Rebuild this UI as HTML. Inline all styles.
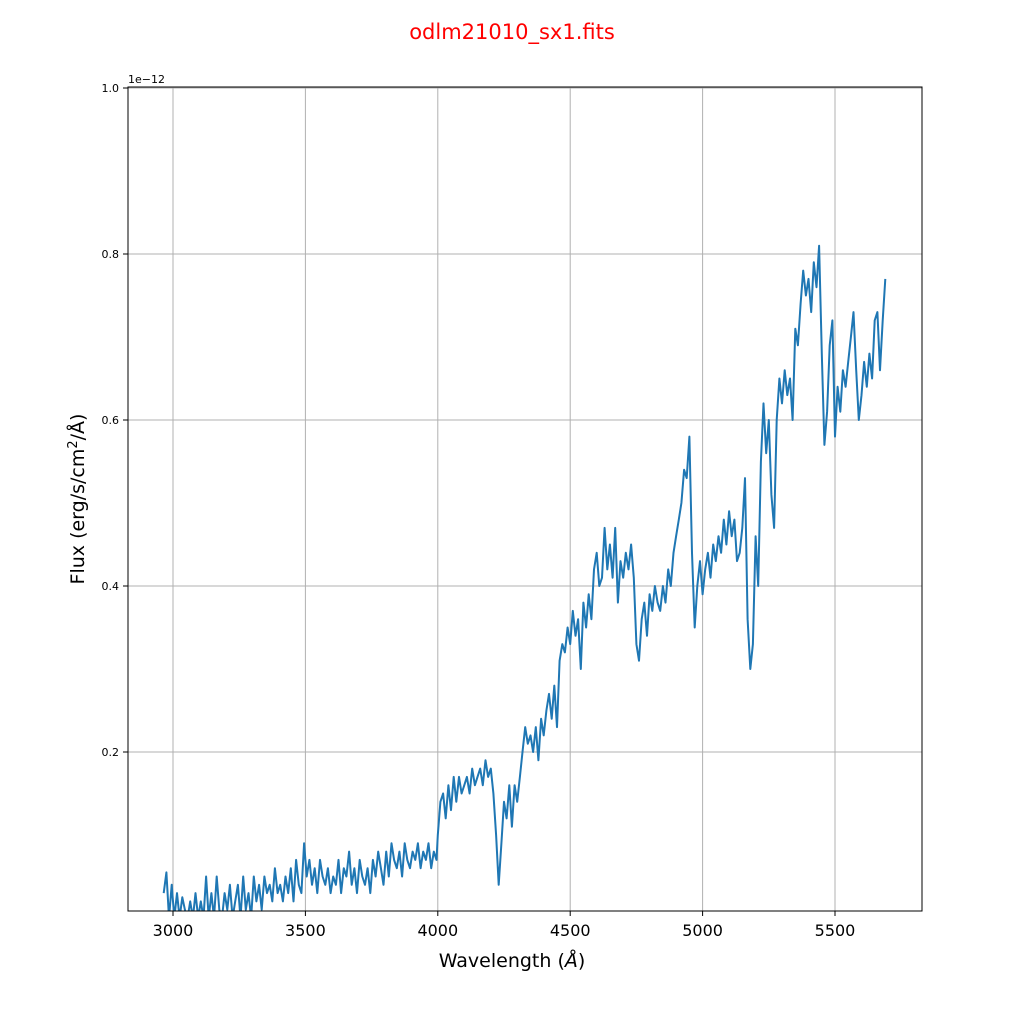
<!DOCTYPE html>
<html><head><meta charset="utf-8"><style>
body{margin:0;background:#fff;}
svg{display:block;font-family:"DejaVu Sans","Liberation Sans",sans-serif;}
</style></head><body>
<svg id="chart" width="1024" height="1024">
<text x="512" y="39" text-anchor="middle" font-size="21" fill="#ff0000">odlm21010_sx1.fits</text>
<defs><clipPath id="clip"><rect x="128" y="87" width="794" height="824"/></clipPath></defs>
<g id="grid"></g>
<g id="plot" clip-path="url(#clip)"></g>
<rect x="128" y="87" width="794" height="824" fill="none" stroke="#000" stroke-width="1"/>
<g id="ticks"></g>
<text x="128" y="83" font-size="11">1e−12</text>
<text x="512" y="967" text-anchor="middle" font-size="19">Wavelength (<tspan font-style="italic">Å</tspan>)</text>
<text transform="translate(84,499) rotate(-90)" text-anchor="middle" font-size="19">Flux (erg/s/cm<tspan font-size="13" dy="-7">2</tspan><tspan dy="7">/Å)</tspan></text>
</svg>
<script>
const wavelengths=[2965,2975,2985,2995,3005,3015,3025,3035,3045,3055,3065,3075,3085,3095,3105,3115,3125,3135,3145,3155,3165,3175,3185,3195,3205,3215,3225,3235,3245,3255,3265,3275,3285,3295,3305,3315,3325,3335,3345,3355,3365,3375,3385,3395,3405,3415,3425,3435,3445,3455,3465,3475,3485,3495,3505,3515,3525,3535,3545,3555,3565,3575,3585,3595,3605,3615,3625,3635,3645,3655,3665,3675,3685,3695,3705,3715,3725,3735,3745,3755,3765,3775,3785,3795,3805,3815,3825,3835,3845,3855,3865,3875,3885,3895,3905,3915,3925,3935,3945,3955,3965,3975,3985,3995,
4000,4010,4020,4030,4040,4050,4060,4070,4080,4090,4100,4110,4120,4130,4140,4150,4160,4170,4180,4190,4200,4210,4220,4230,4240,4250,4260,4270,4280,4290,4300,4310,4320,4330,4340,4350,4360,4370,4380,4390,4400,4410,4420,4430,4440,4450,4460,4470,4480,4490,4500,4510,4520,4530,4540,4550,4560,4570,4580,4590,4600,4610,4620,4630,4640,4650,4660,4670,4680,4690,4700,4710,4720,4730,4740,4750,4760,4770,4780,4790,4800,4810,4820,4830,4840,4850,4860,4870,4880,4890,4900,4910,4920,4930,4940,4950,4960,4970,4980,4990,5000,5010,5020,5030,5040,5050,5060,5070,5080,5090,5100,5110,5120,5130,5140,5150,5160,5170,5180,5190,5200,5210,5220,5230,5240,5250,5260,5270,5280,5290,5300,5310,5320,5330,5340,5350,5360,5370,5380,5390,5400,5410,5420,5430,5440,5450,5460,5470,5480,5490,5500,5510,5520,5530,5540,5550,5560,5570,5580,5590,5600,5610,5620,5630,5640,5650,5660,5670,5680,5690];
const fluxes=[0.03,0.055,0.0,0.04,0.0,0.03,0.0,0.025,0.01,0.0,0.02,0.0,0.03,0.0,0.02,0.0,0.05,0.0,0.03,0.0,0.05,0.01,0.0,0.03,0.01,0.04,0.0,0.02,0.04,0.0,0.05,0.01,0.03,0.0,0.05,0.02,0.04,0.01,0.05,0.03,0.04,0.02,0.06,0.03,0.04,0.02,0.05,0.03,0.06,0.02,0.07,0.04,0.03,0.09,0.05,0.07,0.04,0.06,0.03,0.07,0.05,0.04,0.06,0.03,0.05,0.04,0.07,0.03,0.06,0.05,0.08,0.04,0.06,0.03,0.07,0.05,0.04,0.06,0.03,0.07,0.05,0.08,0.06,0.04,0.08,0.05,0.09,0.07,0.06,0.08,0.05,0.09,0.07,0.06,0.08,0.07,0.09,0.06,0.08,0.07,0.09,0.06,0.08,0.07,
0.10,0.14,0.15,0.12,0.16,0.13,0.17,0.14,0.17,0.15,0.16,0.17,0.15,0.18,0.16,0.17,0.18,0.16,0.19,0.17,0.18,0.15,0.10,0.04,0.09,0.14,0.12,0.16,0.11,0.16,0.14,0.17,0.20,0.23,0.21,0.22,0.20,0.23,0.19,0.24,0.22,0.25,0.27,0.24,0.28,0.23,0.31,0.33,0.32,0.35,0.33,0.37,0.34,0.36,0.30,0.38,0.35,0.39,0.36,0.42,0.44,0.40,0.41,0.47,0.42,0.45,0.41,0.47,0.38,0.43,0.41,0.44,0.42,0.45,0.41,0.33,0.31,0.36,0.38,0.34,0.39,0.37,0.40,0.38,0.37,0.40,0.38,0.42,0.40,0.44,0.46,0.48,0.50,0.54,0.53,0.58,0.44,0.35,0.40,0.43,0.39,0.42,0.44,0.41,0.45,0.43,0.46,0.44,0.48,0.45,0.49,0.46,0.48,0.43,0.44,0.47,0.53,0.36,0.30,0.33,0.46,0.40,0.55,0.62,0.56,0.60,0.51,0.47,0.60,0.65,0.62,0.66,0.63,0.65,0.60,0.71,0.69,0.74,0.78,0.75,0.77,0.73,0.79,0.76,0.81,0.68,0.57,0.61,0.69,0.72,0.58,0.64,0.61,0.66,0.64,0.67,0.70,0.73,0.66,0.60,0.63,0.67,0.64,0.68,0.65,0.72,0.73,0.66,0.72,0.77];
const xTicks=[3000,3500,4000,4500,5000,5500];
const yTicks=[0.2,0.4,0.6,0.8,1.0];
const yTickLabels=["0.2","0.4","0.6","0.8","1.0"];
const NS='http://www.w3.org/2000/svg';
const xs=w=>173+(w-3000)*(132.4/500);
const ys=v=>918-v*830;
function mk(tag,attrs,parent){const e=document.createElementNS(NS,tag);for(const k in attrs)e.setAttribute(k,attrs[k]);parent.appendChild(e);return e;}
const grid=document.getElementById('grid'),ticks=document.getElementById('ticks'),plot=document.getElementById('plot');
xTicks.forEach(t=>{const x=xs(t);
 const g=mk('line',{x1:x,x2:x,y1:87,y2:911,stroke:'#b0b0b0','stroke-width':1},grid);
 
 
 mk('line',{x1:x,x2:x,y1:911,y2:916,stroke:'#000'},ticks);
 const l=mk('text',{x:x,y:936,'text-anchor':'middle','font-size':16},ticks);l.textContent=t;
 
 
});
yTicks.forEach((t,i)=>{const y=ys(t);
 const g=mk('line',{x1:128,x2:922,y1:y,y2:y,stroke:'#b0b0b0','stroke-width':1},grid);
 
 
 mk('line',{x1:123,x2:128,y1:y,y2:y,stroke:'#000'},ticks);
 const l=mk('text',{x:119,y:y+4,'text-anchor':'end','font-size':11},ticks);l.textContent=yTickLabels[i];
 
 
});
const d=wavelengths.map((w,i)=>(i?'L':'M')+xs(w).toFixed(1)+','+ys(fluxes[i]).toFixed(1)).join('');
const p=mk('path',{d:d,fill:'none',stroke:'#1f77b4','stroke-width':2,'stroke-linejoin':'round'},plot);


</script>
</body></html>
